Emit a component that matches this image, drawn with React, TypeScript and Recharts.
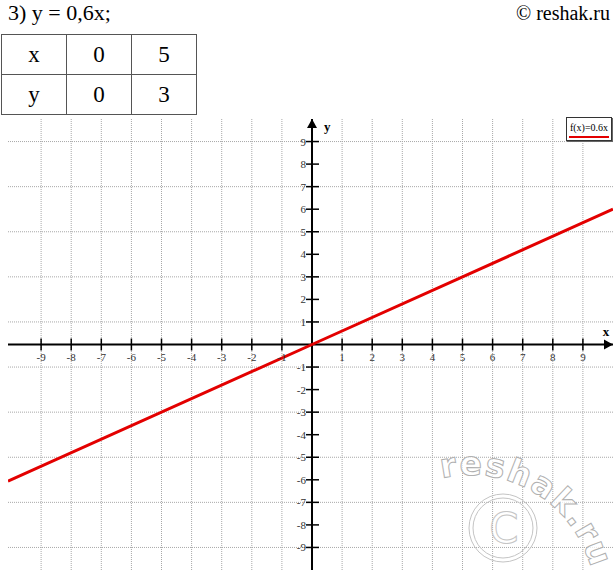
import {
  CartesianGrid,
  Line,
  LineChart,
  ReferenceDot,
  ReferenceLine,
  XAxis,
  YAxis,
} from "recharts";

// y = 0,6x (line runs edge to edge)
const LINE_X = [-10.1, 0, 10];
const LINE_Y = [-6.06, 0, 6];

const X_TICKS = [-9, -8, -7, -6, -5, -4, -3, -2, -1, 1, 2, 3, 4, 5, 6, 7, 8, 9];
const Y_TICKS = [-9, -8, -7, -6, -5, -4, -3, -2, -1, 1, 2, 3, 4, 5, 6, 7, 8, 9];
const GRID_VALUES = [-9, -8, -7, -6, -5, -4, -3, -2, -1, 0, 1, 2, 3, 4, 5, 6, 7, 8, 9];

const TABLE_HEAD = ["x", "y"];
const TABLE_X = ["0", "5"];
const TABLE_Y = ["0", "3"];

const RED = "#e30000";
const INK = "#000";
const GRID = "#a8a8a8";
const SERIF = "'Liberation Serif', 'Times New Roman', serif";

const data = LINE_X.map((x, i) => ({ x, y: LINE_Y[i] }));

function XTick({ cx, cy, label }: { cx?: number; cy?: number; label: number }) {
  if (cx == null || cy == null) return <g />;
  return (
    <g>
      <line x1={cx} x2={cx} y1={cy - 6} y2={cy + 6} stroke={INK} strokeWidth={1.5} />
      <text x={cx} y={cy + 16} textAnchor="middle" fontSize={11} fontFamily={SERIF} fill="#333">
        {label}
      </text>
    </g>
  );
}

function YTick({ cx, cy, label }: { cx?: number; cy?: number; label: number }) {
  if (cx == null || cy == null) return <g />;
  return (
    <g>
      <line x1={cx - 6} x2={cx + 7} y1={cy} y2={cy} stroke={INK} strokeWidth={1.5} />
      <text x={cx - 6} y={cy + 4} textAnchor="end" fontSize={11} fontFamily={SERIF} fill="#333">
        {label}
      </text>
    </g>
  );
}

function ArrowRight({ cx, cy }: { cx?: number; cy?: number }) {
  if (cx == null || cy == null) return <g />;
  return (
    <g>
      <polygon points={`${cx},${cy} ${cx - 9},${cy - 5} ${cx - 9},${cy + 5}`} fill={INK} />
      <text x={cx - 7} y={cy - 9} textAnchor="middle" fontSize={13} fontWeight={700} fontFamily={SERIF}>
        x
      </text>
    </g>
  );
}

function ArrowUp({ cx, cy }: { cx?: number; cy?: number }) {
  if (cx == null || cy == null) return <g />;
  return (
    <g>
      <polygon points={`${cx},${cy} ${cx - 5},${cy + 9} ${cx + 5},${cy + 9}`} fill={INK} />
      <text x={cx + 12} y={cy + 12} textAnchor="start" fontSize={13} fontWeight={700} fontFamily={SERIF}>
        y
      </text>
    </g>
  );
}

function LegendBox() {
  return (
    <div
      style={{
        position: "absolute",
        left: 566,
        top: 117,
        width: 46,
        height: 24,
        boxSizing: "border-box",
        border: "1px solid #333",
        boxShadow: "1px 1px 0 #666",
        background: "#fff",
        fontFamily: SERIF,
        fontSize: 10,
        lineHeight: "14px",
        textAlign: "center",
        paddingTop: 3,
        color: "#000",
      }}
    >
      <div>f(x)=0.6x</div>
      <div style={{ height: 2, background: RED, margin: "1px 2px 0" }} />
    </div>
  );
}

function Watermark() {
  const cx = 470;
  const cy = 600;
  const r = 125;
  const a0 = (-103 * Math.PI) / 180;
  const a1 = (-8 * Math.PI) / 180;
  const p0 = [cx + r * Math.cos(a0), cy + r * Math.sin(a0)];
  const p1 = [cx + r * Math.cos(a1), cy + r * Math.sin(a1)];
  return (
    <svg
      width={615}
      height={571}
      style={{ position: "absolute", left: 0, top: 0, pointerEvents: "none" }}
    >
      <defs>
        <path id="wm-arc" d={`M ${p0[0]} ${p0[1]} A ${r} ${r} 0 0 1 ${p1[0]} ${p1[1]}`} fill="none" />
      </defs>
      <text
        fontFamily="'DejaVu Sans', sans-serif"
        fontWeight={700}
        fontSize={33}
        fill="#fff"
        fillOpacity={0.75}
        stroke="#b0b0b0"
        strokeWidth={1}
      >
        <textPath href="#wm-arc" textLength={192} lengthAdjust="spacing">
          reshak.ru
        </textPath>
      </text>
      <circle cx={503} cy={528} r={34} fill="none" stroke="#c4c4c4" strokeWidth={1} />
      <circle cx={503} cy={528} r={30} fill="none" stroke="#c4c4c4" strokeWidth={1} />
      <text
        x={504}
        y={543}
        textAnchor="middle"
        fontFamily="'DejaVu Sans', sans-serif"
        fontSize={42}
        fill="none"
        stroke="#c4c4c4"
        strokeWidth={1}
      >
        C
      </text>
    </svg>
  );
}

export default function App() {
  const cell: React.CSSProperties = {
    border: "1.5px solid #555",
    width: 64,
    height: 39,
    textAlign: "center",
    fontFamily: SERIF,
    fontSize: 23,
    padding: 0,
  };
  return (
    <div style={{ position: "absolute", left: 0, top: 0, width: 615, height: 571, background: "#fff" }}>
      <div
        style={{ position: "absolute", left: 8, top: 1, fontFamily: SERIF, fontSize: 22, lineHeight: "24px" }}
      >
        3) y = 0,6x;
      </div>
      <div
        style={{ position: "absolute", right: 5, top: 1, fontFamily: SERIF, fontSize: 20, lineHeight: "24px" }}
      >
        © reshak.ru
      </div>
      <table
        style={{
          position: "absolute",
          left: 1,
          top: 34,
          borderCollapse: "collapse",
        }}
      >
        <tbody>
          <tr>
            <td style={cell}>{TABLE_HEAD[0]}</td>
            {TABLE_X.map((v, i) => (
              <td key={i} style={cell}>
                {v}
              </td>
            ))}
          </tr>
          <tr>
            <td style={cell}>{TABLE_HEAD[1]}</td>
            {TABLE_Y.map((v, i) => (
              <td key={i} style={cell}>
                {v}
              </td>
            ))}
          </tr>
        </tbody>
      </table>

      <div style={{ position: "absolute", left: 0, top: 0 }}>
        <LineChart width={615} height={571} data={data} margin={{ top: 119, right: 2, bottom: 1, left: 8 }}>
          <CartesianGrid
            verticalValues={GRID_VALUES}
            horizontalValues={GRID_VALUES}
            stroke={GRID}
            strokeDasharray="1 1"
          />
          <XAxis type="number" dataKey="x" domain={[-10.1, 10]} allowDataOverflow hide />
          <YAxis type="number" domain={[-10, 10]} allowDataOverflow hide />
          <ReferenceLine y={0} stroke={INK} strokeWidth={2} />
          <ReferenceLine x={0} stroke={INK} strokeWidth={2} />
          {X_TICKS.map((k) => (
            <ReferenceDot
              key={`x${k}`}
              x={k}
              y={0}
              r={0}
              ifOverflow="visible"
              shape={(p: any) => <XTick cx={p.cx} cy={p.cy} label={k} />}
            />
          ))}
          {Y_TICKS.map((k) => (
            <ReferenceDot
              key={`y${k}`}
              x={0}
              y={k}
              r={0}
              ifOverflow="visible"
              shape={(p: any) => <YTick cx={p.cx} cy={p.cy} label={k} />}
            />
          ))}
          <ReferenceDot x={10} y={0} r={0} ifOverflow="visible" shape={(p: any) => <ArrowRight cx={p.cx} cy={p.cy} />} />
          <ReferenceDot x={0} y={10} r={0} ifOverflow="visible" shape={(p: any) => <ArrowUp cx={p.cx} cy={p.cy} />} />
          <Line
            type="linear"
            dataKey="y"
            stroke={RED}
            strokeWidth={3}
            dot={false}
            isAnimationActive={false}
          />
        </LineChart>
      </div>
      <LegendBox />
      <Watermark />
    </div>
  );
}
